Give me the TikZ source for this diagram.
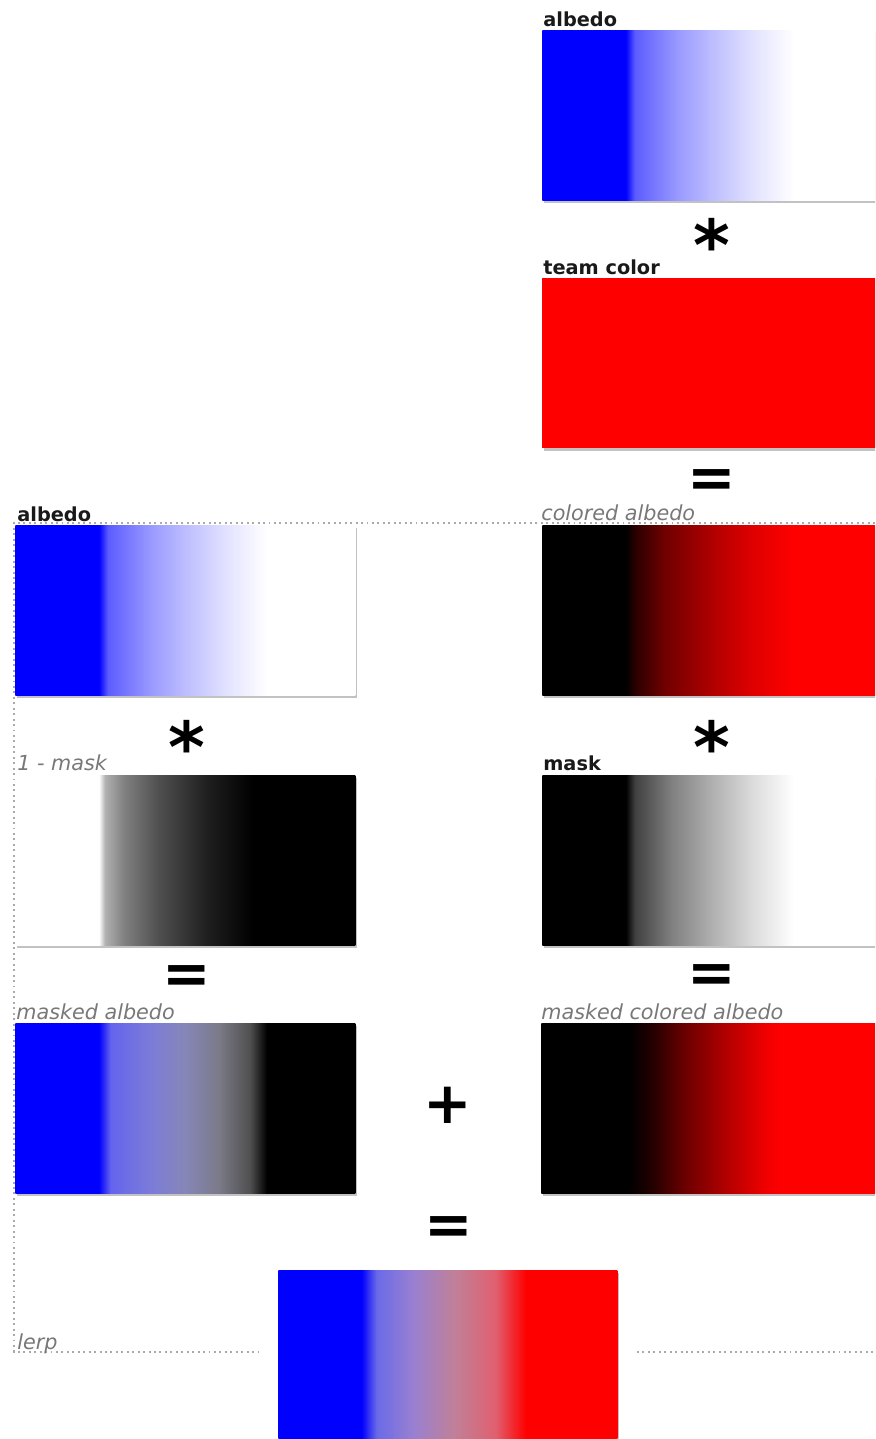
\documentclass[tikz,border=0pt]{standalone}
\usepackage{xcolor}
\usepackage{fontspec}
\usepackage{tikz}
\usetikzlibrary{positioning, shadows}
\setmainfont{DejaVu Sans}
\definecolor{guidegray}{RGB}{170,170,170}
\definecolor{lblgray}{RGB}{120,120,120}
\definecolor{albA}{RGB}{92,92,255}
\definecolor{albB}{RGB}{154,154,255}
\definecolor{albC}{RGB}{189,189,255}
\definecolor{albD}{RGB}{226,226,255}
\definecolor{colA}{RGB}{42,0,0}
\definecolor{colB}{RGB}{112,0,0}
\definecolor{colC}{RGB}{176,0,0}
\definecolor{colD}{RGB}{224,0,0}
\definecolor{mskA}{RGB}{64,64,64}
\definecolor{mskB}{RGB}{128,128,128}
\definecolor{mskC}{RGB}{176,176,176}
\definecolor{mskD}{RGB}{220,220,220}
\definecolor{invA}{RGB}{176,176,176}
\definecolor{invB}{RGB}{128,128,128}
\definecolor{invC}{RGB}{80,80,80}
\definecolor{invD}{RGB}{32,32,32}
\definecolor{maA}{RGB}{100,100,238}
\definecolor{maB}{RGB}{124,124,216}
\definecolor{maC}{RGB}{134,134,184}
\definecolor{maD}{RGB}{122,122,136}
\definecolor{maE}{RGB}{80,80,80}
\definecolor{mcA}{RGB}{32,0,0}
\definecolor{mcB}{RGB}{106,0,0}
\definecolor{mcC}{RGB}{176,0,0}
\definecolor{mcD}{RGB}{240,0,0}
\definecolor{lrA}{RGB}{106,106,232}
\definecolor{lrB}{RGB}{154,128,208}
\definecolor{lrC}{RGB}{192,128,152}
\definecolor{lrD}{RGB}{224,96,112}

% strips: the box covers 25bp..75bp of each shading
\pgfdeclarehorizontalshading{albedoshade}{100bp}{color(0bp)=(blue); color(37.3bp)=(blue);
  color(38.6bp)=(albA); color(45bp)=(albB); color(50bp)=(albC); color(56bp)=(albD);
  color(62bp)=(white); color(100bp)=(white)}
\pgfdeclarehorizontalshading{coloredshade}{100bp}{color(0bp)=(black); color(37.3bp)=(black);
  color(38.6bp)=(colA); color(43bp)=(colB); color(50bp)=(colC); color(56bp)=(colD);
  color(62bp)=(red); color(100bp)=(red)}
\pgfdeclarehorizontalshading{maskshade}{100bp}{color(0bp)=(black); color(37.3bp)=(black);
  color(38.6bp)=(mskA); color(44bp)=(mskB); color(50bp)=(mskC); color(56bp)=(mskD);
  color(62bp)=(white); color(100bp)=(white)}
\pgfdeclarehorizontalshading{invmaskshade}{100bp}{color(0bp)=(white); color(37.3bp)=(white);
  color(38.2bp)=(invA); color(41bp)=(invB); color(46bp)=(invC); color(53bp)=(invD);
  color(60bp)=(black); color(100bp)=(black)}
\pgfdeclarehorizontalshading{maskedshade}{100bp}{color(0bp)=(blue); color(37.3bp)=(blue);
  color(39bp)=(maA); color(45bp)=(maB); color(50bp)=(maC); color(55bp)=(maD);
  color(59.5bp)=(maE); color(62bp)=(black); color(100bp)=(black)}
\pgfdeclarehorizontalshading{maskcolshade}{100bp}{color(0bp)=(black); color(37.8bp)=(black);
  color(41bp)=(mcA); color(46bp)=(mcB); color(52bp)=(mcC); color(58bp)=(mcD);
  color(60.5bp)=(red); color(100bp)=(red)}
\pgfdeclarehorizontalshading{lerpshade}{100bp}{color(0bp)=(blue); color(37.3bp)=(blue);
  color(39.5bp)=(lrA); color(45bp)=(lrB); color(51bp)=(lrC); color(57bp)=(lrD);
  color(61.5bp)=(red); color(100bp)=(red)}

\begin{document}
\begin{tikzpicture}[x=0.02cm, y=-0.02cm,
  strip/.style={anchor=north west, inner sep=0pt, minimum width=6.8cm, minimum height=3.4cm,
                drop shadow={shadow xshift=0.8pt, shadow yshift=-1.4pt, opacity=0.4, fill=black!60}},
  lbl/.style={anchor=base west, inner sep=0pt, font=\bfseries\fontsize{11}{13}\selectfont, text=black!90},
  ilbl/.style={anchor=base west, inner sep=0pt, font=\itshape\fontsize{11.8}{14}\selectfont, text=lblgray},
  op/.style={inner sep=0pt, font=\bfseries\fontsize{33}{33}\selectfont},
  star/.style={op, font=\bfseries\fontsize{40}{40}\selectfont},
  guide/.style={guidegray, dotted, line width=1.1pt}
]
\useasboundingbox (0,0) rectangle (875,1439);
\clip (0,0) rectangle (875,1439);

% guide lines
\coordinate (g1) at (14,523);
\coordinate (g2) at (875,523);
\coordinate (g3) at (14,1352);
\coordinate (g4) at (258,1352);
\coordinate (g5) at (637,1352);
\coordinate (g6) at (875,1352);
\draw[guide] (g2) -- (g1) -- (g3) -- (g4);
\draw[guide] (g5) -- (g6);

% right column
\node[strip, shading=albedoshade] (albR) at (542,30) {};
\node[lbl] (albRlbl) at (543,27) {albedo};
\node[star] (mulR1) at (712,244) {*};
\node[strip, fill=red] (team) at (542,278) {};
\node[lbl] (teamlbl) at (543,275) {team color};
\node[op] (eqR1) at (712,484) {=};
\node[strip, shading=coloredshade] (colalb) at (542,525) {};
\node[ilbl] (colalblbl) at (541,520) {colored albedo};
\node[star] (mulR2) at (712,746) {*};
\node[strip, shading=maskshade] (mask) at (542,775) {};
\node[lbl] (masklbl) at (543,770) {mask};
\node[op] (eqR2) at (712,979) {=};
\node[strip, shading=maskcolshade] (mcalb) at (541,1023) {};
\node[ilbl] (mcalblbl) at (541,1019) {masked colored albedo};

% left column
\node[strip, shading=albedoshade] (albL) at (15,525) {};
\node[lbl] (albLlbl) at (17,521) {albedo};
\node[star] (mulL) at (187,746) {*};
\node[strip, shading=invmaskshade] (invmask) at (15,775) {};
\node[ilbl] (invmasklbl) at (17,770) {1 - mask};
\node[op] (eqL) at (187,980) {=};
\node[strip, shading=maskedshade] (malb) at (15,1023) {};
\node[ilbl] (malblbl) at (16,1019) {masked albedo};

% result
\node[op] (plus) at (448,1105) {+};
\node[op] (eqB) at (449,1231) {=};
\node[strip, shading=lerpshade, minimum width=6.78cm] (lerp) at (278,1270) {};
\node[ilbl] (lerplbl) at (17,1349) {lerp};
\end{tikzpicture}
\end{document}
